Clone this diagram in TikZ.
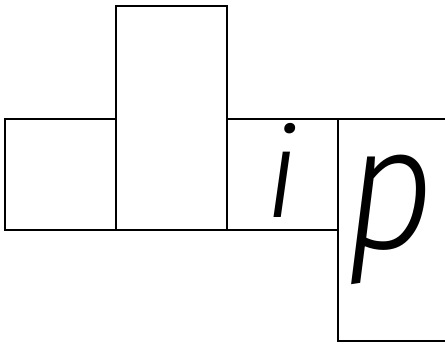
\documentclass[tikz,border=0pt]{standalone}
\usepackage{fontspec}
\setmainfont{Fira Sans}[ItalicFont={Fira Sans Light Italic}]
\begin{document}
\begin{tikzpicture}[x=1pt,y=1pt,
  cell/.style={draw=black,line width=1.8pt},
  letter/.style={font=\fontsize{125}{125}\selectfont\itshape,inner sep=0pt,anchor=base}]
\useasboundingbox (0,0) rectangle (445,344);
\begin{scope}
\clip (0,0) rectangle (445,344);
\draw[cell] (5,114) rectangle (116,225);
\draw[cell] (116,114) rectangle (227,338);
\draw[cell] (227,114) rectangle (338,225);
\draw[cell] (338,3) rectangle (449,225);
\end{scope}
\node[letter] (li) at (282,126) {i};
\node[letter,yscale=1.4,xscale=1.25] (lp) at (390,95) {p};
\end{tikzpicture}
\end{document}
